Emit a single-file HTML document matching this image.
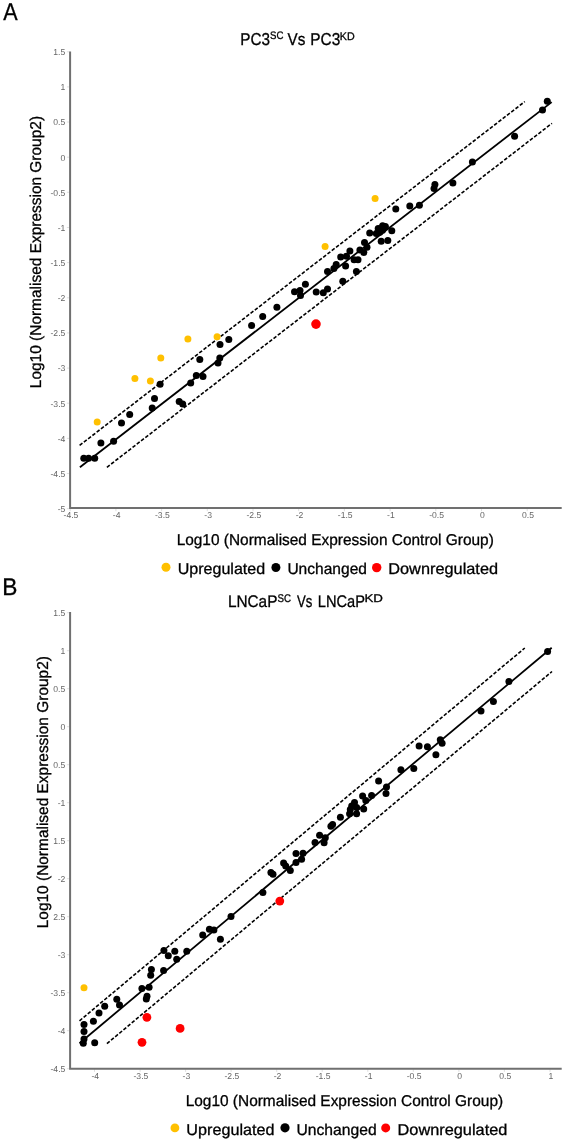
<!DOCTYPE html>
<html><head><meta charset="utf-8"><style>
html,body{margin:0;padding:0;background:#fff;}
body{width:566px;height:1142px;overflow:hidden;}
svg{display:block;font-family:"Liberation Sans", sans-serif;will-change:transform;text-rendering:geometricPrecision;}
.tk{font-size:8.6px;fill:#666;}
</style></head><body>
<svg width="566" height="1142" viewBox="0 0 566 1142">
<rect width="566" height="1142" fill="#fff"/>
<line x1="66.9" y1="51.8" x2="69.6" y2="51.8" stroke="#d8d8d8" stroke-width="0.8"/>
<text x="65.3" y="55.0" text-anchor="end" class="tk">1.5</text>
<line x1="66.9" y1="86.9" x2="69.6" y2="86.9" stroke="#d8d8d8" stroke-width="0.8"/>
<text x="65.3" y="90.2" text-anchor="end" class="tk">1</text>
<line x1="66.9" y1="122.0" x2="69.6" y2="122.0" stroke="#d8d8d8" stroke-width="0.8"/>
<text x="65.3" y="125.3" text-anchor="end" class="tk">0.5</text>
<line x1="66.9" y1="157.2" x2="69.6" y2="157.2" stroke="#d8d8d8" stroke-width="0.8"/>
<text x="65.3" y="160.5" text-anchor="end" class="tk">0</text>
<line x1="66.9" y1="192.3" x2="69.6" y2="192.3" stroke="#d8d8d8" stroke-width="0.8"/>
<text x="65.3" y="195.7" text-anchor="end" class="tk">-0.5</text>
<line x1="66.9" y1="227.5" x2="69.6" y2="227.5" stroke="#d8d8d8" stroke-width="0.8"/>
<text x="65.3" y="230.8" text-anchor="end" class="tk">-1</text>
<line x1="66.9" y1="262.6" x2="69.6" y2="262.6" stroke="#d8d8d8" stroke-width="0.8"/>
<text x="65.3" y="265.9" text-anchor="end" class="tk">-1.5</text>
<line x1="66.9" y1="297.8" x2="69.6" y2="297.8" stroke="#d8d8d8" stroke-width="0.8"/>
<text x="65.3" y="301.1" text-anchor="end" class="tk">-2</text>
<line x1="66.9" y1="332.9" x2="69.6" y2="332.9" stroke="#d8d8d8" stroke-width="0.8"/>
<text x="65.3" y="336.2" text-anchor="end" class="tk">-2.5</text>
<line x1="66.9" y1="368.1" x2="69.6" y2="368.1" stroke="#d8d8d8" stroke-width="0.8"/>
<text x="65.3" y="371.4" text-anchor="end" class="tk">-3</text>
<line x1="66.9" y1="403.2" x2="69.6" y2="403.2" stroke="#d8d8d8" stroke-width="0.8"/>
<text x="65.3" y="406.6" text-anchor="end" class="tk">-3.5</text>
<line x1="66.9" y1="438.4" x2="69.6" y2="438.4" stroke="#d8d8d8" stroke-width="0.8"/>
<text x="65.3" y="441.7" text-anchor="end" class="tk">-4</text>
<line x1="66.9" y1="473.5" x2="69.6" y2="473.5" stroke="#d8d8d8" stroke-width="0.8"/>
<text x="65.3" y="476.8" text-anchor="end" class="tk">-4.5</text>
<line x1="66.9" y1="508.7" x2="69.6" y2="508.7" stroke="#d8d8d8" stroke-width="0.8"/>
<text x="65.3" y="512.0" text-anchor="end" class="tk">-5</text>
<line x1="70.2" y1="508.5" x2="70.2" y2="511.2" stroke="#d8d8d8" stroke-width="0.8"/>
<text x="71.0" y="518.1" text-anchor="middle" class="tk">-4.5</text>
<line x1="115.9" y1="508.5" x2="115.9" y2="511.2" stroke="#d8d8d8" stroke-width="0.8"/>
<text x="116.7" y="518.1" text-anchor="middle" class="tk">-4</text>
<line x1="161.6" y1="508.5" x2="161.6" y2="511.2" stroke="#d8d8d8" stroke-width="0.8"/>
<text x="162.4" y="518.1" text-anchor="middle" class="tk">-3.5</text>
<line x1="207.3" y1="508.5" x2="207.3" y2="511.2" stroke="#d8d8d8" stroke-width="0.8"/>
<text x="208.1" y="518.1" text-anchor="middle" class="tk">-3</text>
<line x1="253.0" y1="508.5" x2="253.0" y2="511.2" stroke="#d8d8d8" stroke-width="0.8"/>
<text x="253.8" y="518.1" text-anchor="middle" class="tk">-2.5</text>
<line x1="298.7" y1="508.5" x2="298.7" y2="511.2" stroke="#d8d8d8" stroke-width="0.8"/>
<text x="299.5" y="518.1" text-anchor="middle" class="tk">-2</text>
<line x1="344.4" y1="508.5" x2="344.4" y2="511.2" stroke="#d8d8d8" stroke-width="0.8"/>
<text x="345.2" y="518.1" text-anchor="middle" class="tk">-1.5</text>
<line x1="390.1" y1="508.5" x2="390.1" y2="511.2" stroke="#d8d8d8" stroke-width="0.8"/>
<text x="390.9" y="518.1" text-anchor="middle" class="tk">-1</text>
<line x1="435.8" y1="508.5" x2="435.8" y2="511.2" stroke="#d8d8d8" stroke-width="0.8"/>
<text x="436.6" y="518.1" text-anchor="middle" class="tk">-0.5</text>
<line x1="481.5" y1="508.5" x2="481.5" y2="511.2" stroke="#d8d8d8" stroke-width="0.8"/>
<text x="482.3" y="518.1" text-anchor="middle" class="tk">0</text>
<line x1="527.2" y1="508.5" x2="527.2" y2="511.2" stroke="#d8d8d8" stroke-width="0.8"/>
<text x="528.0" y="518.1" text-anchor="middle" class="tk">0.5</text>
<path d="M70.1 51.5 V508.0 H561.7" fill="none" stroke="#707070" stroke-width="2"/>
<line x1="79.9" y1="467.3" x2="551.7" y2="102.1" stroke="#000" stroke-width="1.8"/>
<line x1="79.6" y1="445.4" x2="524.8" y2="101.6" stroke="#000" stroke-width="1.6" stroke-dasharray="3.6 1.8"/>
<line x1="106.9" y1="467.3" x2="552.0" y2="123.3" stroke="#000" stroke-width="1.6" stroke-dasharray="3.6 1.8"/>
<circle cx="83.8" cy="458.3" r="3.5"/>
<circle cx="88.6" cy="458.3" r="3.5"/>
<circle cx="94.7" cy="458.3" r="3.5"/>
<circle cx="100.9" cy="442.9" r="3.5"/>
<circle cx="113.6" cy="441.2" r="3.5"/>
<circle cx="121.5" cy="422.9" r="3.5"/>
<circle cx="129.7" cy="414.5" r="3.5"/>
<circle cx="152.2" cy="408" r="3.5"/>
<circle cx="154.5" cy="398.4" r="3.5"/>
<circle cx="160.1" cy="384.2" r="3.5"/>
<circle cx="179.2" cy="401.6" r="3.5"/>
<circle cx="182.7" cy="403.9" r="3.5"/>
<circle cx="190.7" cy="383" r="3.5"/>
<circle cx="196.3" cy="375.6" r="3.5"/>
<circle cx="203.0" cy="376.6" r="3.5"/>
<circle cx="199.8" cy="359.5" r="3.5"/>
<circle cx="219.8" cy="357.9" r="3.5"/>
<circle cx="218.0" cy="363.0" r="3.5"/>
<circle cx="220.0" cy="344.6" r="3.5"/>
<circle cx="228.8" cy="339.5" r="3.5"/>
<circle cx="251.6" cy="325.4" r="3.5"/>
<circle cx="262.7" cy="316.6" r="3.5"/>
<circle cx="276.9" cy="307.2" r="3.5"/>
<circle cx="294.5" cy="291.8" r="3.5"/>
<circle cx="300" cy="290.5" r="3.5"/>
<circle cx="300.5" cy="295.4" r="3.5"/>
<circle cx="305.4" cy="284.2" r="3.5"/>
<circle cx="316.2" cy="291.9" r="3.5"/>
<circle cx="323.3" cy="292.8" r="3.5"/>
<circle cx="327.5" cy="288.9" r="3.5"/>
<circle cx="327.5" cy="271.5" r="3.5"/>
<circle cx="333.9" cy="268.5" r="3.5"/>
<circle cx="336.2" cy="264.4" r="3.5"/>
<circle cx="342.8" cy="281.3" r="3.5"/>
<circle cx="340.7" cy="256.9" r="3.5"/>
<circle cx="345.6" cy="266.1" r="3.5"/>
<circle cx="346.5" cy="256.2" r="3.5"/>
<circle cx="349.9" cy="251.1" r="3.5"/>
<circle cx="354.1" cy="259.7" r="3.5"/>
<circle cx="358.0" cy="259.8" r="3.5"/>
<circle cx="356.4" cy="271.5" r="3.5"/>
<circle cx="359.9" cy="250" r="3.5"/>
<circle cx="363.8" cy="252.6" r="3.5"/>
<circle cx="364.5" cy="242.4" r="3.5"/>
<circle cx="367" cy="247.3" r="3.5"/>
<circle cx="369.7" cy="232.9" r="3.5"/>
<circle cx="376.3" cy="233.6" r="3.5"/>
<circle cx="378.2" cy="228.6" r="3.5"/>
<circle cx="382.6" cy="225.8" r="3.5"/>
<circle cx="385.4" cy="226.5" r="3.5"/>
<circle cx="379.8" cy="232.2" r="3.5"/>
<circle cx="381.2" cy="241.3" r="3.5"/>
<circle cx="387.8" cy="240.6" r="3.5"/>
<circle cx="391.8" cy="230.8" r="3.5"/>
<circle cx="382.5" cy="230.3" r="3.5"/>
<circle cx="395.8" cy="208.9" r="3.5"/>
<circle cx="409.8" cy="206.0" r="3.5"/>
<circle cx="419.4" cy="205.3" r="3.5"/>
<circle cx="434.9" cy="184.5" r="3.5"/>
<circle cx="434.0" cy="188.6" r="3.5"/>
<circle cx="452.9" cy="182.9" r="3.5"/>
<circle cx="472.4" cy="162.1" r="3.5"/>
<circle cx="514.6" cy="136.2" r="3.5"/>
<circle cx="542.5" cy="110.0" r="3.5"/>
<circle cx="547.3" cy="101.2" r="3.5"/>
<circle cx="97.2" cy="422" r="3.5" fill="#FFC000" stroke="none"/>
<circle cx="134.9" cy="378.5" r="3.5" fill="#FFC000" stroke="none"/>
<circle cx="150.4" cy="381.1" r="3.5" fill="#FFC000" stroke="none"/>
<circle cx="160.8" cy="357.9" r="3.5" fill="#FFC000" stroke="none"/>
<circle cx="187.9" cy="339" r="3.5" fill="#FFC000" stroke="none"/>
<circle cx="217.1" cy="336.7" r="3.5" fill="#FFC000" stroke="none"/>
<circle cx="325.1" cy="246.6" r="3.5" fill="#FFC000" stroke="none"/>
<circle cx="375.1" cy="198.6" r="3.5" fill="#FFC000" stroke="none"/>
<circle cx="316" cy="324.1" r="4.8" fill="#FF0000" stroke="none"/>
<line x1="66.9" y1="612.7" x2="69.6" y2="612.7" stroke="#d8d8d8" stroke-width="0.8"/>
<text x="65.3" y="616.0" text-anchor="end" class="tk">1.5</text>
<line x1="66.9" y1="650.7" x2="69.6" y2="650.7" stroke="#d8d8d8" stroke-width="0.8"/>
<text x="65.3" y="654.0" text-anchor="end" class="tk">1</text>
<line x1="66.9" y1="688.7" x2="69.6" y2="688.7" stroke="#d8d8d8" stroke-width="0.8"/>
<text x="65.3" y="692.0" text-anchor="end" class="tk">0.5</text>
<line x1="66.9" y1="726.7" x2="69.6" y2="726.7" stroke="#d8d8d8" stroke-width="0.8"/>
<text x="65.3" y="730.0" text-anchor="end" class="tk">0</text>
<line x1="66.9" y1="764.7" x2="69.6" y2="764.7" stroke="#d8d8d8" stroke-width="0.8"/>
<text x="65.3" y="768.0" text-anchor="end" class="tk">0.5</text>
<line x1="66.9" y1="802.7" x2="69.6" y2="802.7" stroke="#d8d8d8" stroke-width="0.8"/>
<text x="65.3" y="806.0" text-anchor="end" class="tk">-1</text>
<line x1="66.9" y1="840.7" x2="69.6" y2="840.7" stroke="#d8d8d8" stroke-width="0.8"/>
<text x="65.3" y="844.0" text-anchor="end" class="tk">1.5</text>
<line x1="66.9" y1="878.7" x2="69.6" y2="878.7" stroke="#d8d8d8" stroke-width="0.8"/>
<text x="65.3" y="882.0" text-anchor="end" class="tk">-2</text>
<line x1="66.9" y1="916.7" x2="69.6" y2="916.7" stroke="#d8d8d8" stroke-width="0.8"/>
<text x="65.3" y="920.0" text-anchor="end" class="tk">2.5</text>
<line x1="66.9" y1="954.7" x2="69.6" y2="954.7" stroke="#d8d8d8" stroke-width="0.8"/>
<text x="65.3" y="958.0" text-anchor="end" class="tk">-3</text>
<line x1="66.9" y1="992.7" x2="69.6" y2="992.7" stroke="#d8d8d8" stroke-width="0.8"/>
<text x="65.3" y="996.0" text-anchor="end" class="tk">-3.5</text>
<line x1="66.9" y1="1030.7" x2="69.6" y2="1030.7" stroke="#d8d8d8" stroke-width="0.8"/>
<text x="65.3" y="1034.0" text-anchor="end" class="tk">-4</text>
<line x1="66.9" y1="1068.7" x2="69.6" y2="1068.7" stroke="#d8d8d8" stroke-width="0.8"/>
<text x="65.3" y="1072.0" text-anchor="end" class="tk">-4.5</text>
<line x1="94.5" y1="1069.2" x2="94.5" y2="1071.9" stroke="#d8d8d8" stroke-width="0.8"/>
<text x="95.3" y="1078.8" text-anchor="middle" class="tk">-4</text>
<line x1="140.1" y1="1069.2" x2="140.1" y2="1071.9" stroke="#d8d8d8" stroke-width="0.8"/>
<text x="140.9" y="1078.8" text-anchor="middle" class="tk">-3.5</text>
<line x1="185.6" y1="1069.2" x2="185.6" y2="1071.9" stroke="#d8d8d8" stroke-width="0.8"/>
<text x="186.4" y="1078.8" text-anchor="middle" class="tk">-3</text>
<line x1="231.1" y1="1069.2" x2="231.1" y2="1071.9" stroke="#d8d8d8" stroke-width="0.8"/>
<text x="231.9" y="1078.8" text-anchor="middle" class="tk">-2.5</text>
<line x1="276.7" y1="1069.2" x2="276.7" y2="1071.9" stroke="#d8d8d8" stroke-width="0.8"/>
<text x="277.5" y="1078.8" text-anchor="middle" class="tk">-2</text>
<line x1="322.2" y1="1069.2" x2="322.2" y2="1071.9" stroke="#d8d8d8" stroke-width="0.8"/>
<text x="323.1" y="1078.8" text-anchor="middle" class="tk">-1.5</text>
<line x1="367.8" y1="1069.2" x2="367.8" y2="1071.9" stroke="#d8d8d8" stroke-width="0.8"/>
<text x="368.6" y="1078.8" text-anchor="middle" class="tk">-1</text>
<line x1="413.3" y1="1069.2" x2="413.3" y2="1071.9" stroke="#d8d8d8" stroke-width="0.8"/>
<text x="414.1" y="1078.8" text-anchor="middle" class="tk">-0.5</text>
<line x1="458.9" y1="1069.2" x2="458.9" y2="1071.9" stroke="#d8d8d8" stroke-width="0.8"/>
<text x="459.7" y="1078.8" text-anchor="middle" class="tk">0</text>
<line x1="504.4" y1="1069.2" x2="504.4" y2="1071.9" stroke="#d8d8d8" stroke-width="0.8"/>
<text x="505.2" y="1078.8" text-anchor="middle" class="tk">0.5</text>
<line x1="550.0" y1="1069.2" x2="550.0" y2="1071.9" stroke="#d8d8d8" stroke-width="0.8"/>
<text x="550.8" y="1078.8" text-anchor="middle" class="tk">1</text>
<path d="M70.1 612.0 V1068.7 H561.7" fill="none" stroke="#707070" stroke-width="2"/>
<line x1="79.5" y1="1043.2" x2="551.7" y2="647.7" stroke="#000" stroke-width="1.8"/>
<line x1="79.5" y1="1020.8" x2="524.8" y2="648.0" stroke="#000" stroke-width="1.6" stroke-dasharray="3.6 1.8"/>
<line x1="106.9" y1="1043.7" x2="552.0" y2="671.5" stroke="#000" stroke-width="1.6" stroke-dasharray="3.6 1.8"/>
<circle cx="84.0" cy="1024.6" r="3.5"/>
<circle cx="84.0" cy="1031.4" r="3.5"/>
<circle cx="84.0" cy="1038.9" r="3.5"/>
<circle cx="83.3" cy="1043.3" r="3.5"/>
<circle cx="94.7" cy="1042.8" r="3.5"/>
<circle cx="93.4" cy="1021.2" r="3.5"/>
<circle cx="99.0" cy="1013.1" r="3.5"/>
<circle cx="104.7" cy="1006.2" r="3.5"/>
<circle cx="116.8" cy="999.2" r="3.5"/>
<circle cx="119.5" cy="1005.1" r="3.5"/>
<circle cx="141.9" cy="988.5" r="3.5"/>
<circle cx="149.1" cy="987.2" r="3.5"/>
<circle cx="147.0" cy="996.2" r="3.5"/>
<circle cx="146.3" cy="999.0" r="3.5"/>
<circle cx="151.4" cy="969.6" r="3.5"/>
<circle cx="150.7" cy="975.3" r="3.5"/>
<circle cx="163.6" cy="970.6" r="3.5"/>
<circle cx="163.9" cy="950.4" r="3.5"/>
<circle cx="168.3" cy="955.7" r="3.5"/>
<circle cx="174.8" cy="951.2" r="3.5"/>
<circle cx="176.7" cy="959.2" r="3.5"/>
<circle cx="186.8" cy="951.2" r="3.5"/>
<circle cx="202.7" cy="935.0" r="3.5"/>
<circle cx="209.4" cy="929.2" r="3.5"/>
<circle cx="213.9" cy="930.0" r="3.5"/>
<circle cx="220.4" cy="939.2" r="3.5"/>
<circle cx="231.0" cy="916.4" r="3.5"/>
<circle cx="262.9" cy="892.4" r="3.5"/>
<circle cx="270.9" cy="872.5" r="3.5"/>
<circle cx="273.0" cy="874.2" r="3.5"/>
<circle cx="283.6" cy="862.9" r="3.5"/>
<circle cx="285.7" cy="865.9" r="3.5"/>
<circle cx="290.3" cy="870.4" r="3.5"/>
<circle cx="296.0" cy="853.6" r="3.5"/>
<circle cx="296.0" cy="862.4" r="3.5"/>
<circle cx="301.6" cy="859.2" r="3.5"/>
<circle cx="303.0" cy="853.2" r="3.5"/>
<circle cx="315.0" cy="842.4" r="3.5"/>
<circle cx="319.6" cy="835.3" r="3.5"/>
<circle cx="325.3" cy="837.8" r="3.5"/>
<circle cx="324.1" cy="842.8" r="3.5"/>
<circle cx="330.9" cy="826.3" r="3.5"/>
<circle cx="332.6" cy="824.4" r="3.5"/>
<circle cx="340.4" cy="817.3" r="3.5"/>
<circle cx="349.6" cy="813.8" r="3.5"/>
<circle cx="350.3" cy="809.6" r="3.5"/>
<circle cx="351.7" cy="806.0" r="3.5"/>
<circle cx="354.5" cy="802.5" r="3.5"/>
<circle cx="356.6" cy="807.5" r="3.5"/>
<circle cx="356.6" cy="813.8" r="3.5"/>
<circle cx="363.7" cy="808.9" r="3.5"/>
<circle cx="362.6" cy="796.1" r="3.5"/>
<circle cx="365.8" cy="800.4" r="3.5"/>
<circle cx="371.6" cy="795.5" r="3.5"/>
<circle cx="378.6" cy="781.1" r="3.5"/>
<circle cx="386.5" cy="786.9" r="3.5"/>
<circle cx="386.0" cy="793.5" r="3.5"/>
<circle cx="400.9" cy="769.8" r="3.5"/>
<circle cx="413.8" cy="768.6" r="3.5"/>
<circle cx="419.1" cy="745.9" r="3.5"/>
<circle cx="427.4" cy="746.8" r="3.5"/>
<circle cx="435.9" cy="754.8" r="3.5"/>
<circle cx="440.3" cy="739.8" r="3.5"/>
<circle cx="442.1" cy="743.3" r="3.5"/>
<circle cx="481.0" cy="710.9" r="3.5"/>
<circle cx="493.4" cy="701.6" r="3.5"/>
<circle cx="508.9" cy="681.6" r="3.5"/>
<circle cx="547.6" cy="651.6" r="3.5"/>
<circle cx="84.0" cy="987.7" r="3.5" fill="#FFC000" stroke="none"/>
<circle cx="146.9" cy="1017.3" r="4.4" fill="#FF0000" stroke="none"/>
<circle cx="142.0" cy="1042.3" r="4.4" fill="#FF0000" stroke="none"/>
<circle cx="180.1" cy="1028.4" r="4.4" fill="#FF0000" stroke="none"/>
<circle cx="279.8" cy="901.1" r="4.4" fill="#FF0000" stroke="none"/>
<g stroke="#000" stroke-width="0.3">
<text x="3.15" y="19.80" font-size="24.44" fill="#000" textLength="14.40" lengthAdjust="spacingAndGlyphs">A</text>
<text x="2.33" y="594.60" font-size="24.00" fill="#000" textLength="15.16" lengthAdjust="spacingAndGlyphs">B</text>
<text x="240.24" y="45.40" font-size="17.16" fill="#000" textLength="29.82" lengthAdjust="spacingAndGlyphs">PC3</text>
<text x="269.97" y="39.40" font-size="10.91" fill="#000" textLength="13.39" lengthAdjust="spacingAndGlyphs">SC</text>
<text x="287.62" y="45.40" font-size="17.16" fill="#000" textLength="17.80" lengthAdjust="spacingAndGlyphs">Vs</text>
<text x="310.23" y="45.40" font-size="17.16" fill="#000" textLength="30.04" lengthAdjust="spacingAndGlyphs">PC3</text>
<text x="339.82" y="39.80" font-size="10.91" fill="#000" textLength="14.88" lengthAdjust="spacingAndGlyphs">KD</text>
<text x="227.93" y="607.40" font-size="16.87" fill="#000" textLength="49.45" lengthAdjust="spacingAndGlyphs">LNCaP</text>
<text x="277.56" y="602.10" font-size="11.20" fill="#000" textLength="13.49" lengthAdjust="spacingAndGlyphs">SC</text>
<text x="296.93" y="607.40" font-size="16.87" fill="#000" textLength="15.32" lengthAdjust="spacingAndGlyphs">Vs</text>
<text x="317.79" y="607.40" font-size="16.87" fill="#000" textLength="47.16" lengthAdjust="spacingAndGlyphs">LNCaP</text>
<text x="364.40" y="602.10" font-size="11.20" fill="#000" textLength="18.52" lengthAdjust="spacingAndGlyphs">KD</text>
<text transform="translate(41.00 386.90) rotate(-90)" x="-1.27" y="0" font-size="15.70" fill="#000" textLength="272.20" lengthAdjust="spacingAndGlyphs">Log10 (Normalised Expression Group2)</text>
<text transform="translate(48.30 927.00) rotate(-90)" x="-1.27" y="0" font-size="15.70" fill="#000" textLength="272.20" lengthAdjust="spacingAndGlyphs">Log10 (Normalised Expression Group2)</text>
<text x="176.63" y="544.80" font-size="15.70" fill="#000" textLength="317.21" lengthAdjust="spacingAndGlyphs">Log10 (Normalised Expression Control Group)</text>
<text x="185.63" y="1105.90" font-size="15.70" fill="#000" textLength="317.51" lengthAdjust="spacingAndGlyphs">Log10 (Normalised Expression Control Group)</text>
<text x="177.65" y="573.80" font-size="15.70" fill="#000" textLength="87.57" lengthAdjust="spacingAndGlyphs">Upregulated</text>
<text x="287.39" y="573.80" font-size="15.70" fill="#000" textLength="79.58" lengthAdjust="spacingAndGlyphs">Unchanged</text>
<text x="388.25" y="573.80" font-size="15.70" fill="#000" textLength="109.80" lengthAdjust="spacingAndGlyphs">Downregulated</text>
<text x="186.35" y="1134.80" font-size="15.70" fill="#000" textLength="88.18" lengthAdjust="spacingAndGlyphs">Upregulated</text>
<text x="296.48" y="1134.80" font-size="15.70" fill="#000" textLength="80.20" lengthAdjust="spacingAndGlyphs">Unchanged</text>
<text x="397.55" y="1134.80" font-size="15.70" fill="#000" textLength="109.80" lengthAdjust="spacingAndGlyphs">Downregulated</text>
<circle cx="166.0" cy="567.2" r="4.5" fill="#FFC000" stroke="none"/>
<circle cx="275.9" cy="567.5" r="4.5" fill="#000" stroke="none"/>
<circle cx="376.7" cy="567.6" r="4.7" fill="#FF0000" stroke="none"/>
<circle cx="174.9" cy="1127.9" r="4.4" fill="#FFC000" stroke="none"/>
<circle cx="285.0" cy="1127.8" r="4.6" fill="#000" stroke="none"/>
<circle cx="385.7" cy="1127.9" r="4.5" fill="#FF0000" stroke="none"/>
</g>
</svg>
</body></html>
